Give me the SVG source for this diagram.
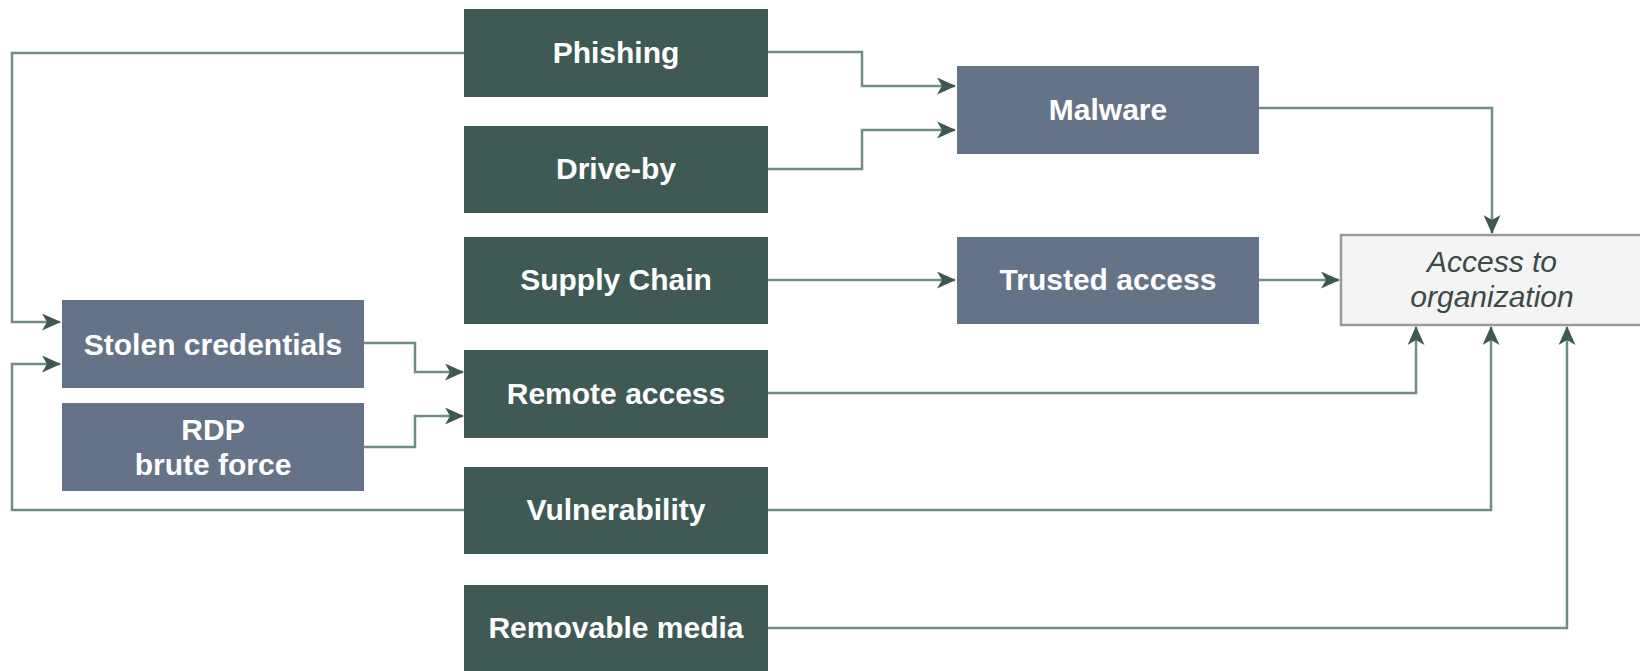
<svg xmlns="http://www.w3.org/2000/svg" width="1640" height="671" viewBox="0 0 1640 671">
<style>
.bg{fill:#ffffff}
.dk{fill:#3f5a55}
.sl{fill:#647388}
.lbl{font-family:"Liberation Sans",Arial,sans-serif;font-weight:bold;font-size:30px;fill:#ffffff;text-anchor:middle}
.tgt{fill:#f4f4f4;stroke:#9a9a9a;stroke-width:2.5}
.tlbl{font-family:"Liberation Sans",Arial,sans-serif;font-style:italic;font-size:30px;fill:#3b4a48;text-anchor:middle}
.c{fill:none;stroke:#6f8c87;stroke-width:2.5;marker-end:url(#arr)}
</style>
<defs>
<marker id="arr" viewBox="0 0 19 17" refX="18" refY="8.5" markerWidth="19" markerHeight="17" markerUnits="userSpaceOnUse" orient="auto">
<path d="M0,0 L19,8.5 L0,17 L5,8.5 Z" fill="#3e5954"/>
</marker>
</defs>
<rect class="bg" x="0" y="0" width="1640" height="671"/>
<g id="connectors">
<path class="c" d="M464,53 H12 V322 H60"/>
<path class="c" d="M464,510 H12 V364 H60"/>
<path class="c" d="M768,52 H862 V86 H955"/>
<path class="c" d="M768,169 H862 V130 H955"/>
<path class="c" d="M1259,108 H1492 V233"/>
<path class="c" d="M768,280 H955"/>
<path class="c" d="M1259,280 H1339"/>
<path class="c" d="M364,343 H415 V372 H463"/>
<path class="c" d="M364,447 H415 V416 H463"/>
<path class="c" d="M768,393 H1416 V327"/>
<path class="c" d="M768,510 H1491 V327"/>
<path class="c" d="M768,628 H1567 V327"/>
</g>
<g id="phishing"><rect class="dk" x="464" y="9" width="304" height="88"/><text class="lbl" x="616" y="63">Phishing</text></g>
<g id="driveby"><rect class="dk" x="464" y="126" width="304" height="87"/><text class="lbl" x="616" y="179">Drive-by</text></g>
<g id="supplychain"><rect class="dk" x="464" y="237" width="304" height="87"/><text class="lbl" x="616" y="290">Supply Chain</text></g>
<g id="remoteaccess"><rect class="dk" x="464" y="350" width="304" height="88"/><text class="lbl" x="616" y="404">Remote access</text></g>
<g id="vulnerability"><rect class="dk" x="464" y="467" width="304" height="87"/><text class="lbl" x="616" y="520">Vulnerability</text></g>
<g id="removablemedia"><rect class="dk" x="464" y="585" width="304" height="86"/><text class="lbl" x="616" y="638">Removable media</text></g>
<g id="malware"><rect class="sl" x="957" y="66" width="302" height="88"/><text class="lbl" x="1108" y="120">Malware</text></g>
<g id="trustedaccess"><rect class="sl" x="957" y="237" width="302" height="87"/><text class="lbl" x="1108" y="290">Trusted access</text></g>
<g id="stolencredentials"><rect class="sl" x="62" y="300" width="302" height="88"/><text class="lbl" x="213" y="355">Stolen credentials</text></g>
<g id="rdp"><rect class="sl" x="62" y="403" width="302" height="88"/><text class="lbl" x="213" y="440">RDP</text><text class="lbl" x="213" y="475">brute force</text></g>
<g id="access"><rect class="tgt" x="1341" y="235" width="302" height="90"/><text class="tlbl" x="1492" y="272">Access to</text><text class="tlbl" x="1492" y="307">organization</text></g>
</svg>
